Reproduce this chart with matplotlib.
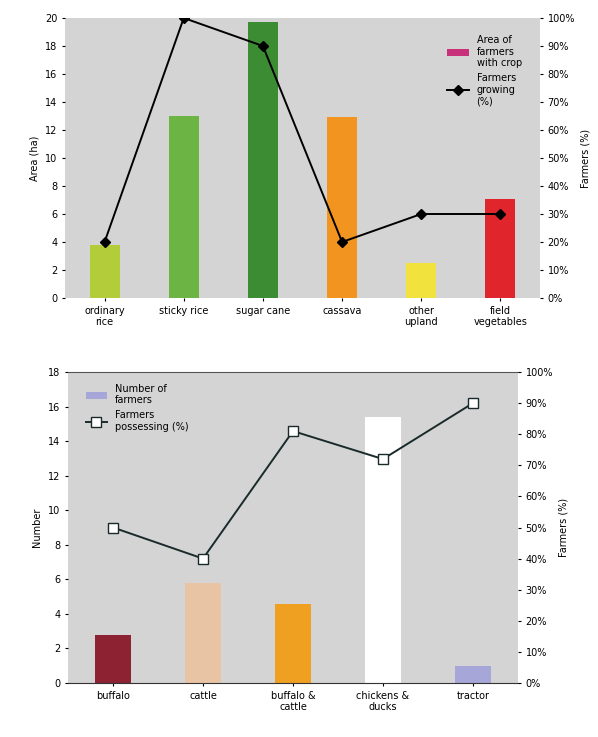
import matplotlib.pyplot as plt
import numpy as np
from matplotlib.ticker import PercentFormatter
from matplotlib.patches import Patch

# top chart: crops
crops = ["ordinary\nrice", "sticky rice", "sugar cane", "cassava", "other\nupland", "field\nvegetables"]
crop_area = [3.8, 13.0, 19.7, 12.9, 2.5, 7.1]
crop_growing = [20, 100, 90, 20, 30, 30]
crop_colors = ['#b2cc3a', '#6cb443', '#3c8c34', '#f29420', '#f2e23e', '#e0262c']

# bottom chart: livestock / tractor
animals = ["buffalo", "cattle", "buffalo &\ncattle", "chickens &\nducks", "tractor"]
animal_number = [2.8, 5.8, 4.6, 15.4, 1.0]
animal_possess = [50, 40, 81, 72, 90]
animal_colors = ['#8c2232', '#e8c4a4', '#f0a020', '#ffffff', '#a6a6d8']

bg = '#d4d4d4'
fs = 7

fig = plt.figure(figsize=(5.98, 7.37), dpi=100)

##############
ax1 = fig.add_axes([65/598, 1-298/737, 475/598, 280/737])
ax1.set_facecolor(bg)
x = np.arange(len(crops))
ax1.bar(x, crop_area, width=0.38, color=crop_colors)
ax1.set_ylim(0, 20)
ax1.set_yticks(range(0, 21, 2))
ax1.set_xlim(-0.5, len(crops) - 0.5)
ax1.set_xticks(x)
ax1.set_xticklabels(crops, fontsize=fs)
ax1.tick_params(axis='both', labelsize=fs, length=2)
ax1.set_ylabel("Area (ha)", fontsize=fs)
for s in ax1.spines.values():
    s.set_visible(False)

ax1r = ax1.twinx()
ax1r.plot(x, crop_growing, c='black', marker='D', ms=5, lw=1.4, label="Farmers\ngrowing\n(%)")
ax1r.set_ylim(0, 100)
ax1r.set_yticks(range(0, 101, 10))
ax1r.yaxis.set_major_formatter(PercentFormatter(decimals=0))
ax1r.tick_params(axis='y', labelsize=fs, length=2)
ax1r.set_ylabel("Farmers (%)", fontsize=fs)
for s in ax1r.spines.values():
    s.set_visible(False)

h2, l2 = ax1r.get_legend_handles_labels()
area_patch = Patch(facecolor='#c8307a', label="Area of\nfarmers\nwith crop")
ax1r.legend([area_patch] + h2, [area_patch.get_label()] + l2, loc='upper right', fontsize=fs,
            frameon=False, bbox_to_anchor=(0.98, 0.97), handlelength=2.2)

##############
ax2 = fig.add_axes([68/598, 1-683/737, 450/598, 311/737])
ax2.set_facecolor(bg)
x2 = np.arange(len(animals))
ax2.bar(x2, animal_number, width=0.41, color=animal_colors)
ax2.set_ylim(0, 18)
ax2.set_yticks(range(0, 19, 2))
ax2.set_xlim(-0.5, len(animals) - 0.5)
ax2.set_xticks(x2)
ax2.set_xticklabels(animals, fontsize=fs)
ax2.tick_params(axis='both', labelsize=fs, length=2)
ax2.set_ylabel("Number", fontsize=fs)
for k in ['left', 'right']:
    ax2.spines[k].set_visible(False)
ax2.spines['bottom'].set_color('#333333')
ax2.spines['top'].set_color('#555555')

ax2r = ax2.twinx()
ax2r.plot(x2, animal_possess, c='#1a2a2a', marker='s', ms=7, mfc='white', mec='#1a2a2a',
          lw=1.4, label="Farmers\npossessing (%)")
ax2r.set_ylim(0, 100)
ax2r.set_yticks(range(0, 101, 10))
ax2r.yaxis.set_major_formatter(PercentFormatter(decimals=0))
ax2r.tick_params(axis='y', labelsize=fs, length=2)
ax2r.set_ylabel("Farmers (%)", fontsize=fs)
for k in ['left', 'right', 'top', 'bottom']:
    ax2r.spines[k].set_visible(False)

h2, l2 = ax2r.get_legend_handles_labels()
num_patch = Patch(facecolor='#a6a6d8', label="Number of\nfarmers")
ax2r.legend([num_patch] + h2, [num_patch.get_label()] + l2, loc='upper left', fontsize=fs,
            frameon=False, bbox_to_anchor=(0.02, 0.99), handlelength=2.2)

plt.savefig("out.png", dpi=100)
